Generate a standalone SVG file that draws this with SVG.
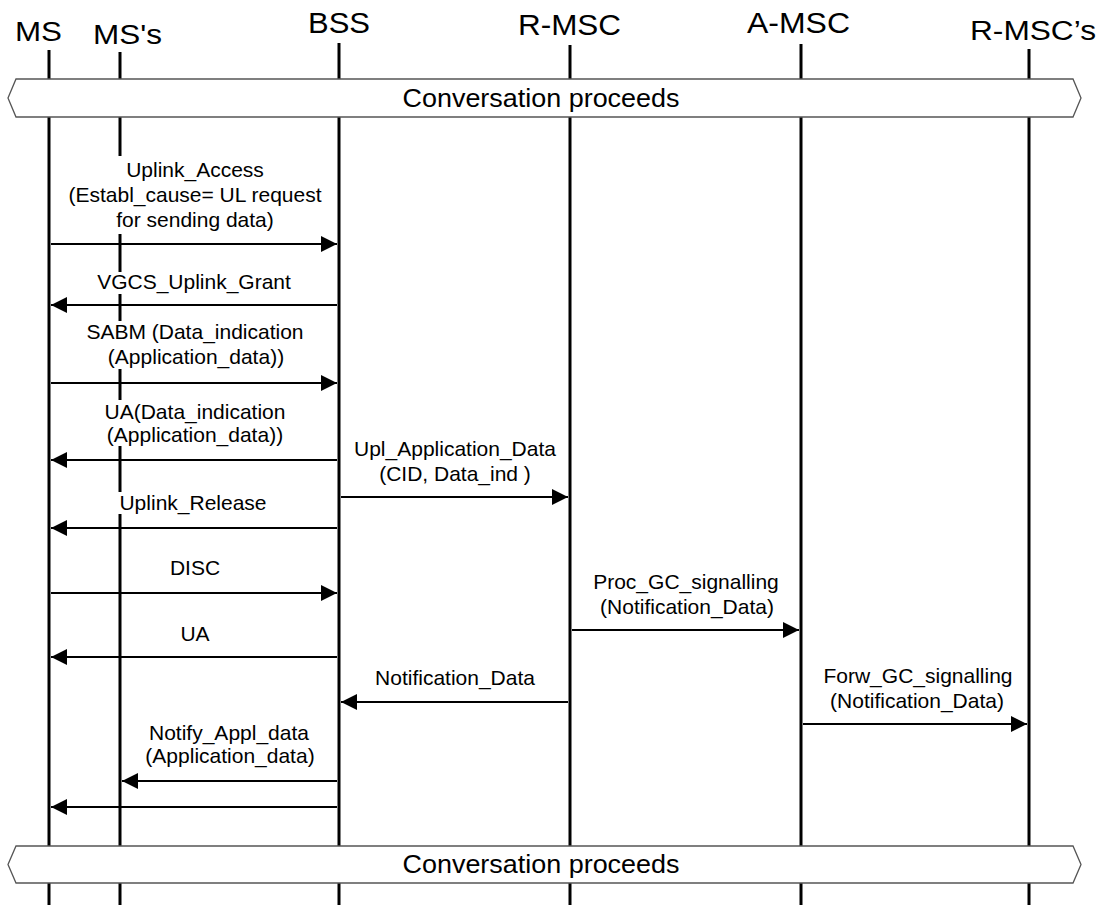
<svg xmlns="http://www.w3.org/2000/svg" width="1103" height="905" viewBox="0 0 1103 905">
<style>
.hdr{font-family:"Liberation Sans",Arial,sans-serif;fill:#000;text-anchor:middle}
.lbl{font-family:"Liberation Sans",Arial,sans-serif;font-size:21px;fill:#000;text-anchor:middle}
.life{stroke:#000;stroke-width:3;fill:none}
.msg{stroke:#000;stroke-width:2;fill:none;marker-end:url(#ah)}
.band{fill:#fff;stroke:#555;stroke-width:1.3}
.bandtxt{font-family:"Liberation Sans",Arial,sans-serif;font-size:25px;fill:#000;text-anchor:middle}
.mask{fill:#fff;stroke:none}
</style>
<defs>
<marker id="ah" markerUnits="userSpaceOnUse" markerWidth="16" markerHeight="16" refX="16" refY="8" orient="auto">
<path d="M0,0 L16,8 L0,16 z" fill="#000"/>
</marker>
</defs>
<rect width="1103" height="905" fill="#fff"/>
<g id="ms">
<text class="hdr" x="38.5" y="41" font-size="27" textLength="47" lengthAdjust="spacingAndGlyphs">MS</text>
<line class="life" x1="49" y1="50" x2="49" y2="905"/>
</g>
<g id="mss">
<text class="hdr" x="127.5" y="44" font-size="27" textLength="69" lengthAdjust="spacingAndGlyphs">MS's</text>
<line class="life" x1="120" y1="52" x2="120" y2="905"/>
</g>
<g id="bss">
<text class="hdr" x="339" y="33" font-size="30" textLength="62" lengthAdjust="spacingAndGlyphs">BSS</text>
<line class="life" x1="339" y1="43" x2="339" y2="905"/>
</g>
<g id="rmsc">
<text class="hdr" x="569.5" y="35" font-size="30" textLength="103" lengthAdjust="spacingAndGlyphs">R-MSC</text>
<line class="life" x1="570" y1="45" x2="570" y2="905"/>
</g>
<g id="amsc">
<text class="hdr" x="798.5" y="33" font-size="29" textLength="103" lengthAdjust="spacingAndGlyphs">A-MSC</text>
<line class="life" x1="801" y1="44" x2="801" y2="905"/>
</g>
<g id="rmscs">
<text class="hdr" x="1033" y="40" font-size="27" textLength="126" lengthAdjust="spacingAndGlyphs">R-MSC’s</text>
<line class="life" x1="1029" y1="49" x2="1029" y2="905"/>
</g>
<g id="band-top">
<polygon class="band" points="16,79 1073,79 1081,98 1073,117 16,117 8,98"/>
<text class="bandtxt" x="541" y="107" textLength="277" lengthAdjust="spacingAndGlyphs">Conversation proceeds</text>
</g>
<g id="band-bottom">
<polygon class="band" points="16,846 1073,846 1081,864.5 1073,883 16,883 8,864.5"/>
<text class="bandtxt" x="541" y="873" textLength="277" lengthAdjust="spacingAndGlyphs">Conversation proceeds</text>
</g>
<g id="connectors">
<line class="msg" x1="51" y1="244" x2="337" y2="244"/>
<line class="msg" x1="337" y1="305" x2="51" y2="305"/>
<line class="msg" x1="51" y1="383" x2="337" y2="383"/>
<line class="msg" x1="337" y1="460" x2="51" y2="460"/>
<line class="msg" x1="341" y1="497" x2="568" y2="497"/>
<line class="msg" x1="337" y1="528" x2="51" y2="528"/>
<line class="msg" x1="51" y1="593" x2="337" y2="593"/>
<line class="msg" x1="572" y1="630" x2="799" y2="630"/>
<line class="msg" x1="337" y1="657" x2="51" y2="657"/>
<line class="msg" x1="568" y1="702" x2="341" y2="702"/>
<line class="msg" x1="803" y1="724" x2="1027" y2="724"/>
<line class="msg" x1="337" y1="781" x2="122" y2="781"/>
<line class="msg" x1="337" y1="807" x2="51" y2="807"/>
</g>
<g id="labels">
<rect class="mask" x="110" y="156" width="20" height="78"/>
<text class="lbl" x="195" y="177">Uplink_Access</text>
<text class="lbl" x="195" y="202">(Establ_cause= UL request</text>
<text class="lbl" x="195" y="227">for sending data)</text>
<rect class="mask" x="110" y="272" width="20" height="22"/>
<text class="lbl" x="194" y="289">VGCS_Uplink_Grant</text>
<rect class="mask" x="110" y="321" width="20" height="48"/>
<text class="lbl" x="195" y="339">SABM (Data_indication</text>
<text class="lbl" x="196" y="364">(Application_data))</text>
<rect class="mask" x="110" y="400" width="20" height="46"/>
<text class="lbl" x="195" y="419">UA(Data_indication</text>
<text class="lbl" x="195" y="442">(Application_data))</text>
<text class="lbl" x="455" y="456">Upl_Application_Data</text>
<text class="lbl" x="455" y="481">(CID, Data_ind )</text>
<rect class="mask" x="110" y="492" width="20" height="22"/>
<text class="lbl" x="193" y="510">Uplink_Release</text>
<text class="lbl" x="195" y="575">DISC</text>
<text class="lbl" x="686" y="589">Proc_GC_signalling</text>
<text class="lbl" x="687" y="614">(Notification_Data)</text>
<text class="lbl" x="195" y="641">UA</text>
<text class="lbl" x="455" y="685">Notification_Data</text>
<text class="lbl" x="918" y="683">Forw_GC_signalling</text>
<text class="lbl" x="917" y="708">(Notification_Data)</text>
<text class="lbl" x="229" y="740">Notify_Appl_data</text>
<text class="lbl" x="230" y="763">(Application_data)</text>
</g>
</svg>
